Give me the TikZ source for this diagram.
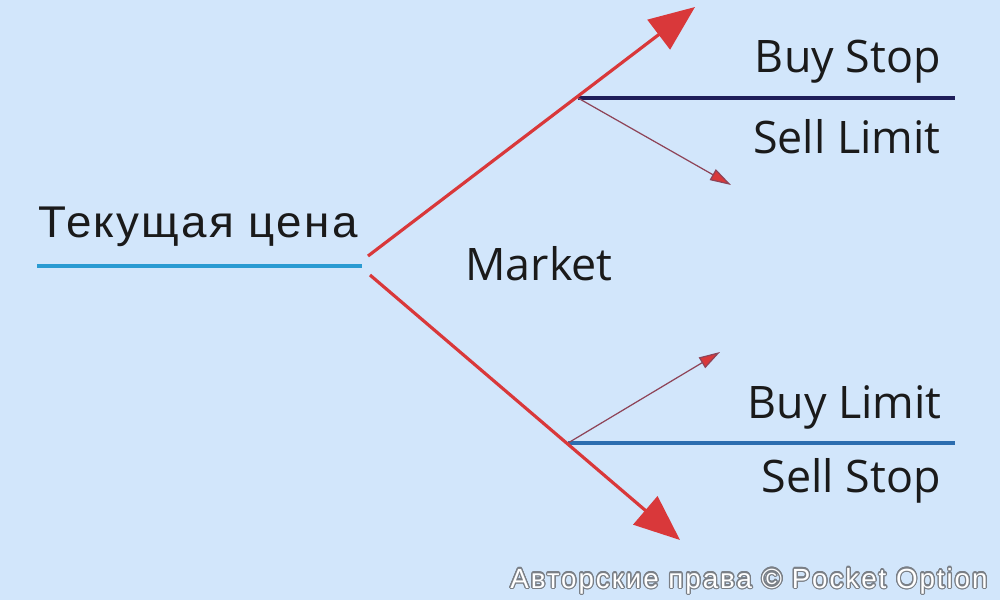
\documentclass[tikz,border=0pt]{standalone}
\usepackage{fontspec}
\setmainfont{Open Sans}
\newfontfamily\wmfont[LetterSpace=7]{Liberation Sans}
\newfontfamily\curfont[LetterSpace=5,FakeStretch=1.03]{Liberation Sans}
\usepackage{contour}
\contourlength{0.7pt}
\usetikzlibrary{arrows.meta}
\definecolor{bgc}{HTML}{D2E6FB}
\definecolor{redc}{HTML}{D9383A}
\definecolor{navyc}{HTML}{1E1E5A}
\definecolor{bluec}{HTML}{2C6DAF}
\definecolor{cyanc}{HTML}{2A9BD2}
\definecolor{thinc}{HTML}{8E4458}
\definecolor{txtc}{HTML}{1A1A1A}
\definecolor{wmc}{HTML}{7A7F86}
\tikzset{
  lbl/.style={inner sep=0pt, text=txtc, font=\fontsize{25.5}{30}\selectfont},
  bigarrow/.style={draw=redc, line width=1.8pt, -{Triangle[length=26pt,width=21pt,fill=redc]}},
  thinarrow/.style={draw=thinc, line width=0.7pt, -{Triangle[length=12pt,width=7pt,fill=redc]}, color=redc, draw=thinc},
  levelline/.style={line width=2.2pt},
}
\begin{document}
\begin{tikzpicture}[x=0.02cm,y=-0.02cm]
\fill[bgc] (0,0) rectangle (1000,600);
\useasboundingbox (0,0) rectangle (1000,600);
% coordinates
\coordinate (cpL) at (37,266);
\coordinate (cpR) at (362,266);
\coordinate (upS) at (368,256);
\coordinate (upT) at (695,7);
\coordinate (loS) at (370,275);
\coordinate (loT) at (680,540);
\coordinate (ub) at (578,98);
\coordinate (ubR) at (955,98);
\coordinate (ubT) at (731,185);
\coordinate (lb) at (568,443);
\coordinate (lbR) at (955,443);
\coordinate (lbT) at (720,352);
% lines
\draw[levelline, cyanc] (cpL) -- (cpR);
\draw[levelline, navyc] (ub) -- (ubR);
\draw[levelline, bluec] (lb) -- (lbR);
\draw[thinarrow] (ub) -- (ubT);
\draw[thinarrow] (lb) -- (lbT);
\draw[bigarrow] (upS) -- (upT);
\draw[bigarrow] (loS) -- (loT);
% labels
\node[lbl, anchor=base west, font=\curfont\fontsize{25.3}{30}\selectfont] (cur) at (38,237) {Текущая цена};
\node[lbl, anchor=base west] (mkt) at (465,280) {Market};
\node[lbl, anchor=base east] (bs) at (941,72) {Buy Stop};
\node[lbl, anchor=base east] (sl) at (941,153) {Sell Limit};
\node[lbl, anchor=base east] (bl) at (942,418) {Buy Limit};
\node[lbl, anchor=base east] (ss) at (941,492) {Sell Stop};
\node[inner sep=0pt, anchor=base west, font=\wmfont\fontsize{15.8}{18}\selectfont] (wm) at (510,588) {\contour{wmc}{\textcolor{white}{Авторские права © Pocket Option}}};
\end{tikzpicture}
\end{document}
